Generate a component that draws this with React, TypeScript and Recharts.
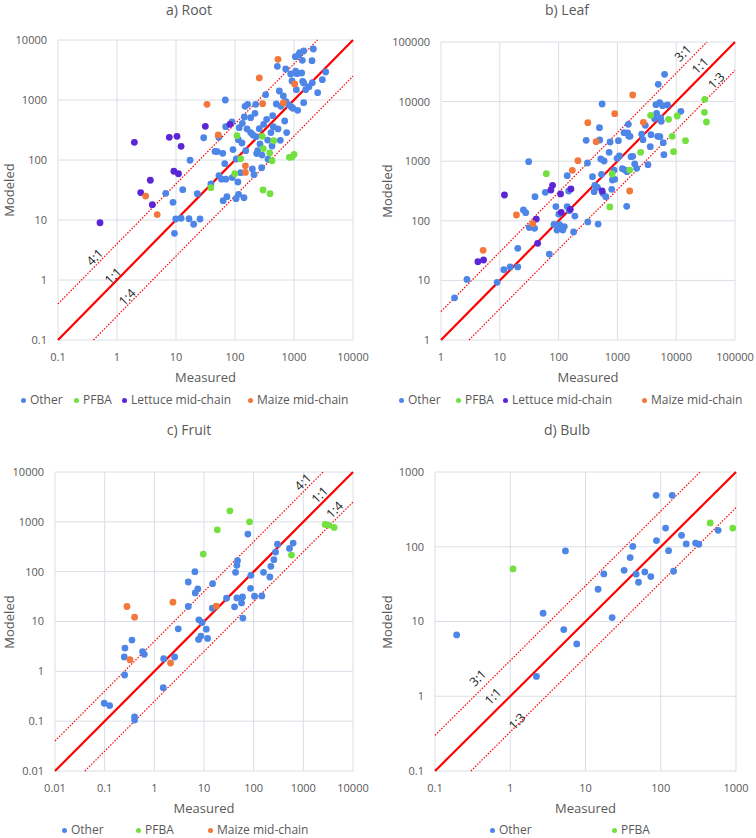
import React from "react";
import {
  ScatterChart,
  Scatter,
  XAxis,
  YAxis,
  CartesianGrid,
  ReferenceLine,
  ReferenceDot,
} from "recharts";

// Four log-log panels: modeled vs measured concentration, with 1:1 and ratio guide lines.

type Pair = [number, number];
type Tag = [string, number, number];

const BLUE = "#4e86e8";
const GREEN = "#72e03f";
const PURPLE = "#5a26d6";
const ORANGE = "#f4773b";
const GRID = "#d9dfe6";
const TEXT = "#595959";
const RED = "#ff0000";
const FONT = "'Open Sans', sans-serif";

// a) Root
const rootOther: Pair[] = [
  [6.7, 27.8], [8.9, 19.7], [9.9, 10.4], [9.4, 6.0], [12.2, 10.7], [13, 32], [17.3, 99],
  [16.6, 10.5], [19.9, 8.5], [23, 27.5], [25.5, 10.4], [29.5, 235], [39, 40], [45.8, 139],
  [50, 138], [53, 239], [53.5, 55], [59, 48], [62, 129], [63, 21], [68.5, 1000], [69.5, 359],
  [67, 87], [70, 48], [73, 24.5], [89, 430], [92.5, 149], [90, 51], [104, 22.7], [105, 104],
  [112, 43], [115, 26.8], [114, 218], [118, 346], [125, 61.5], [131, 192], [133, 408],
  [144, 521], [142, 23.5], [148, 784], [164, 848], [152, 143], [160, 329], [184, 286],
  [184, 508], [197, 71], [202, 261], [210, 57], [218, 600], [224, 848], [227, 245], [233, 128],
  [242, 143], [258, 333], [265, 185], [283, 74.5], [287, 121], [306, 393], [331, 1227],
  [344, 476], [358, 215], [363, 103], [407, 286], [424, 171], [435, 548], [446, 359],
  [501, 857], [522, 3640], [536, 329], [564, 1413], [586, 213], [602, 784], [660, 1166],
  [695, 447], [723, 3289], [731, 938], [751, 286], [813, 836], [879, 2710], [902, 764],
  [925, 2075], [961, 726], [1054, 5275], [1067, 3040], [1124, 2750], [1096, 1486],
  [1153, 673], [1216, 5700], [1247, 6150], [1349, 2818], [1384, 4580], [1403, 2047],
  [1459, 6560], [1459, 1919], [1459, 903], [1578, 1486], [1795, 1667], [2018, 4530],
  [2046, 1945], [2128, 7080], [2518, 1324], [3020, 2183], [3440, 2930],
];
const rootPfba: Pair[] = [
  [39, 34.6], [99, 59], [108, 254], [125, 105], [290, 248], [302, 155], [387, 131],
  [452, 210], [424, 97.5], [299, 31.6], [392, 27.5], [834, 111], [925, 112], [1000, 124],
];
const rootLettuce: Pair[] = [
  [0.515, 9.0], [1.97, 197], [2.52, 28.6], [3.67, 46], [3.97, 18], [7.7, 239], [10.4, 248],
  [12.2, 169], [9.2, 65], [11, 59], [31.4, 364], [82, 393],
];
const rootMaize: Pair[] = [
  [3.06, 25], [4.8, 12.3], [33.5, 848], [52, 261], [150, 80], [150, 62], [258, 2330],
  [294, 869], [536, 4760], [660, 891], [1026, 1849],
];

// b) Leaf
const leafOther: Pair[] = [
  [1.7, 5.1], [2.76, 10.4], [9.0, 9.3], [11.7, 15.1], [15, 16.8], [20.2, 16.8], [20.2, 34.5],
  [25.2, 152], [27.6, 137], [31, 982], [31.8, 77], [39, 74.8], [39.7, 254], [59.4, 300],
  [69.5, 27.7], [83.4, 87], [90, 173], [93.7, 70], [101, 129], [104, 86], [118, 70], [125, 80],
  [140, 572], [140, 173], [148, 316], [152, 148], [180, 65], [189, 120], [294, 2239],
  [310, 933], [314, 95.6], [377, 550], [402, 308], [413, 394], [458, 364], [470, 88],
  [495, 3656], [501, 2270], [522, 1088], [550, 9120], [536, 603], [564, 289], [594, 1007],
  [634, 254], [723, 1410], [751, 2098], [801, 337], [822, 484], [879, 711], [901, 497],
  [986, 1117], [1040, 2213], [1081, 1222], [1216, 750], [1297, 3013], [1349, 711], [1439, 175],
  [1459, 667], [1496, 2972], [1535, 4159], [1556, 2649], [1641, 2612], [1706, 1191],
  [1820, 1207], [1967, 897], [2128, 759], [2582, 2857], [2723, 2296], [2985, 4000],
  [3313, 875], [3622, 1754], [3722, 2786], [4295, 5176], [4520, 8890], [4645, 6350],
  [4831, 2612], [4955, 19500], [5224, 9590], [5284, 2582], [5420, 5308], [5570, 4667],
  [5860, 8550], [6020, 2047], [6180, 1288], [6340, 28700], [7125, 8770], [12000, 6870],
];
const leafPfba: Pair[] = [
  [61.8, 618], [741, 171], [813, 610], [1618, 711], [2485, 1410], [3673, 5888], [7413, 5040],
  [8550, 2612], [9016, 1445], [10400, 5730], [14400, 2213], [30600, 10900], [30200, 6600],
  [32700, 4550],
];
const leafLettuce: Pair[] = [
  [4.24, 20.6], [5.3, 22], [12, 271], [41.8, 107], [44, 41.9], [74, 329], [79, 394],
  [108, 282], [111, 139], [158, 156], [162, 342], [550, 316],
];
const leafMaize: Pair[] = [
  [5.2, 32], [19.2, 125], [36.3, 89.5], [171, 703], [213, 1021], [314, 4436], [435, 2128],
  [901, 6266], [1618, 316], [1820, 12900], [2762, 4487],
];

// c) Fruit
const fruitOther: Pair[] = [
  [0.098, 0.229], [0.126, 0.206], [0.248, 1.94], [0.256, 2.93], [0.252, 0.845], [0.354, 4.23],
  [0.4, 0.122], [0.4, 0.105], [0.58, 2.47], [0.627, 2.19], [1.51, 0.471], [1.54, 1.79],
  [2.56, 1.94], [3.03, 7.13], [4.82, 62], [4.82, 20], [6.56, 100], [6.67, 37.4], [7.5, 45],
  [7.78, 4.37], [7.9, 10.8], [8.66, 5.09], [9.2, 9.55], [11.1, 7.03], [11.8, 4.57],
  [14.7, 18.5], [14.9, 57.5], [28.4, 29.3], [41.2, 19.7], [43.2, 97], [45.9, 134], [47.3, 166],
  [45.9, 29.7], [57, 23.6], [59.7, 31.1], [60.7, 11.7], [76.4, 567], [87.9, 84.5], [86.5, 46.4],
  [104, 32.1], [146, 32.6], [158, 97], [212, 78.2], [222, 128], [255, 174], [276, 247],
  [302, 357], [527, 293], [624, 374],
];
const fruitPfba: Pair[] = [
  [9.66, 225], [18.5, 692], [33.2, 1660], [82.6, 1000], [578, 215], [2750, 885], [3200, 857],
  [4170, 771],
];
const fruitMaize: Pair[] = [
  [0.281, 20], [0.4, 12.2], [0.323, 1.71], [2.12, 1.47], [2.37, 24.4], [17.6, 20.3],
];

// d) Bulb
const bulbOther: Pair[] = [
  [0.194, 6.62], [2.23, 1.84], [2.73, 12.9], [5.14, 7.8], [5.41, 87.9], [7.65, 5.01],
  [14.7, 27], [17.5, 43.3], [22.6, 11.3], [32.6, 48.4], [39.2, 71.6], [42.5, 101], [47.1, 42.9],
  [50.6, 33.5], [61.4, 46], [73.8, 39.9], [86.9, 487], [87.7, 121], [116, 178], [127, 88.7],
  [142, 487], [148, 47], [189, 142], [218, 109], [290, 112], [321, 108], [579, 166],
];
const bulbPfba: Pair[] = [[1.09, 50.5], [454, 208], [908, 177]];

const rootTicks = [0.1, 1, 10, 100, 1000, 10000];
const leafTicks = [1, 10, 100, 1000, 10000, 100000];
const fruitTicks = [0.01, 0.1, 1, 10, 100, 1000, 10000];
const bulbTicks = [0.1, 1, 10, 100, 1000];

// guide line captions, placed in data coordinates
const rootTags: Tag[] = [["4:1", 0.42, 2.4], ["1:1", 0.86, 1.17], ["1:4", 1.48, 0.52]];
const leafTags: Tag[] = [["3:1", 13000, 65000], ["1:1", 25500, 40000], ["1:3", 48000, 22500]];
const fruitTags: Tag[] = [["4:1", 980, 6300], ["1:1", 2140, 3470], ["1:4", 4260, 1740]];
const bulbTags: Tag[] = [["3:1", 0.37, 1.76], ["1:1", 0.59, 1.0], ["1:3", 1.23, 0.46]];

type Series = { name: string; color: string; data: Pair[] };
type LegendItem = { name: string; color: string; x: number };

interface PanelProps {
  title: string;
  box: { x: number; y: number; w: number; h: number };
  plot: { l: number; t: number; r: number; b: number };
  ticks: number[];
  ratio: number;
  series: Series[];
  tags: Tag[];
  legend: LegendItem[];
  legendY: number;
}

const toPts = (d: Pair[]) => d.map(([x, y]) => ({ x, y }));

const dot = (color: string) => (p: any) =>
  <circle cx={p.cx} cy={p.cy} r={3.4} fill={color} />;

const tag = (text: string) => (p: any) => (
  <text
    x={p.cx}
    y={p.cy}
    transform={`rotate(-45 ${p.cx} ${p.cy})`}
    textAnchor="middle"
    dominantBaseline="central"
    fontSize={12.5}
    fontFamily={FONT}
    fill="#262626"
  >
    {text}
  </text>
);

const tickStyle = { fill: TEXT, fontSize: 11, fontFamily: FONT };

function Panel({ title, box, plot, ticks, ratio, series, tags, legend, legendY }: PanelProps) {
  const lo = ticks[0];
  const hi = ticks[ticks.length - 1];
  const xAxisH = 30;
  const margin = {
    top: plot.t - box.y,
    right: box.x + box.w - plot.r,
    bottom: box.y + box.h - plot.b - xAxisH,
    left: 0,
  };
  const cx = (plot.l + plot.r) / 2;
  const cy = (plot.t + plot.b) / 2;
  const center: React.CSSProperties = {
    position: "absolute",
    transform: "translate(-50%, -50%)",
    whiteSpace: "nowrap",
    color: TEXT,
  };

  return (
    <>
      <div style={{ position: "absolute", left: box.x, top: box.y }}>
        <ScatterChart width={box.w} height={box.h} margin={margin}>
          <CartesianGrid stroke={GRID} />
          <XAxis
            type="number"
            dataKey="x"
            scale="log"
            domain={[lo, hi]}
            ticks={ticks}
            interval={0}
            allowDataOverflow
            axisLine={false}
            tickLine={false}
            tickSize={0}
            tickMargin={13}
            height={xAxisH}
            tick={tickStyle}
          />
          <YAxis
            type="number"
            dataKey="y"
            scale="log"
            domain={[lo, hi]}
            ticks={ticks}
            interval={0}
            allowDataOverflow
            axisLine={false}
            tickLine={false}
            tickSize={0}
            tickMargin={11}
            width={plot.l - box.x}
            tick={tickStyle}
          />
          <ReferenceLine
            segment={[{ x: lo, y: lo * ratio }, { x: hi / ratio, y: hi }]}
            stroke={RED}
            strokeWidth={1.2}
            strokeDasharray="1.5 1.5"
          />
          <ReferenceLine
            segment={[{ x: lo * ratio, y: lo }, { x: hi, y: hi / ratio }]}
            stroke={RED}
            strokeWidth={1.2}
            strokeDasharray="1.5 1.5"
          />
          <ReferenceLine
            segment={[{ x: lo, y: lo }, { x: hi, y: hi }]}
            stroke={RED}
            strokeWidth={2.2}
          />
          {series.map((s) => (
            <Scatter
              key={s.name}
              name={s.name}
              data={toPts(s.data)}
              fill={s.color}
              shape={dot(s.color)}
              isAnimationActive={false}
            />
          ))}
          {tags.map(([t, x, y]) => (
            <ReferenceDot key={t} x={x} y={y} r={0} shape={tag(t)} />
          ))}
        </ScatterChart>
      </div>
      <div style={{ ...center, left: box.x + box.w / 2, top: box.y + 9, fontSize: 14 }}>
        {title}
      </div>
      <div
        style={{
          ...center,
          left: box.x + 9,
          top: cy,
          fontSize: 13,
          transform: "translate(-50%, -50%) rotate(-90deg)",
        }}
      >
        Modeled
      </div>
      <div style={{ ...center, left: cx, top: plot.b + 37, fontSize: 13 }}>Measured</div>
      {legend.map((it) => (
        <div
          key={it.name}
          style={{
            position: "absolute",
            left: it.x - 3,
            top: legendY - 7,
            height: 14,
            lineHeight: "14px",
            display: "flex",
            alignItems: "center",
            gap: 4,
            fontSize: 12,
            color: TEXT,
            whiteSpace: "nowrap",
          }}
        >
          <span
            style={{ width: 5, height: 5, borderRadius: "50%", background: it.color, display: "inline-block" }}
          />
          {it.name}
        </div>
      ))}
    </>
  );
}

export default function App() {
  return (
    <div
      style={{
        position: "absolute",
        left: 0,
        top: 0,
        width: 756,
        height: 838,
        background: "#fff",
        fontFamily: FONT,
        overflow: "hidden",
      }}
    >
      <Panel
        title="a) Root"
        box={{ x: 0, y: 0, w: 378, h: 420 }}
        plot={{ l: 58, t: 40, r: 353, b: 340 }}
        ticks={rootTicks}
        ratio={4}
        series={[
          { name: "Other", color: BLUE, data: rootOther },
          { name: "PFBA", color: GREEN, data: rootPfba },
          { name: "Lettuce mid-chain", color: PURPLE, data: rootLettuce },
          { name: "Maize mid-chain", color: ORANGE, data: rootMaize },
        ]}
        tags={rootTags}
        legend={[
          { name: "Other", color: BLUE, x: 24 },
          { name: "PFBA", color: GREEN, x: 77 },
          { name: "Lettuce mid-chain", color: PURPLE, x: 125 },
          { name: "Maize mid-chain", color: ORANGE, x: 251 },
        ]}
        legendY={400}
      />
      <Panel
        title="b) Leaf"
        box={{ x: 378, y: 0, w: 378, h: 420 }}
        plot={{ l: 441, t: 42, r: 735, b: 340 }}
        ticks={leafTicks}
        ratio={3}
        series={[
          { name: "Other", color: BLUE, data: leafOther },
          { name: "PFBA", color: GREEN, data: leafPfba },
          { name: "Lettuce mid-chain", color: PURPLE, data: leafLettuce },
          { name: "Maize mid-chain", color: ORANGE, data: leafMaize },
        ]}
        tags={leafTags}
        legend={[
          { name: "Other", color: BLUE, x: 402 },
          { name: "PFBA", color: GREEN, x: 459 },
          { name: "Lettuce mid-chain", color: PURPLE, x: 506 },
          { name: "Maize mid-chain", color: ORANGE, x: 645 },
        ]}
        legendY={400}
      />
      <Panel
        title="c) Fruit"
        box={{ x: 0, y: 420, w: 378, h: 418 }}
        plot={{ l: 55, t: 472, r: 353, b: 771 }}
        ticks={fruitTicks}
        ratio={4}
        series={[
          { name: "Other", color: BLUE, data: fruitOther },
          { name: "PFBA", color: GREEN, data: fruitPfba },
          { name: "Maize mid-chain", color: ORANGE, data: fruitMaize },
        ]}
        tags={fruitTags}
        legend={[
          { name: "Other", color: BLUE, x: 65 },
          { name: "PFBA", color: GREEN, x: 139 },
          { name: "Maize mid-chain", color: ORANGE, x: 211 },
        ]}
        legendY={830}
      />
      <Panel
        title="d) Bulb"
        box={{ x: 378, y: 420, w: 378, h: 418 }}
        plot={{ l: 435, t: 472, r: 736, b: 771 }}
        ticks={bulbTicks}
        ratio={3}
        series={[
          { name: "Other", color: BLUE, data: bulbOther },
          { name: "PFBA", color: GREEN, data: bulbPfba },
        ]}
        tags={bulbTags}
        legend={[
          { name: "Other", color: BLUE, x: 493 },
          { name: "PFBA", color: GREEN, x: 615 },
        ]}
        legendY={830}
      />
    </div>
  );
}
